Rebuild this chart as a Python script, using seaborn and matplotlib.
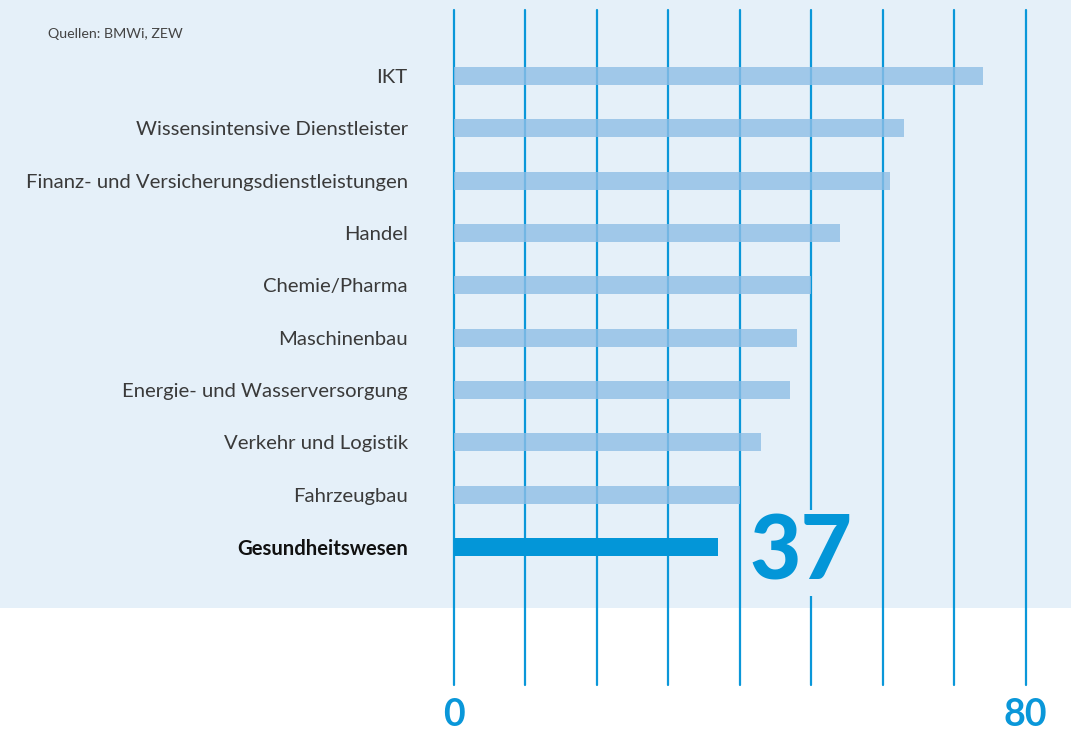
import matplotlib
matplotlib.use("Agg")
import matplotlib.pyplot as plt
import seaborn as sns
import pandas as pd
from matplotlib.patches import Rectangle

# Branchen und Werte
branchen = [
    "IKT",
    "Wissensintensive Dienstleister",
    "Finanz- und Versicherungsdienstleistungen",
    "Handel",
    "Chemie/Pharma",
    "Maschinenbau",
    "Energie- und Wasserversorgung",
    "Verkehr und Logistik",
    "Fahrzeugbau",
    "Gesundheitswesen",
]
werte = [74, 63, 61, 54, 50, 48, 47, 43, 40, 37]
highlight = "Gesundheitswesen"
x_ticks = [0, 80]
grid_steps = list(range(0, 81, 10))

BG = "#e5f0f9"
LIGHT = "#8fbfe6"
DARK = "#0396d8"
LINE = "#0a97d9"

sns.set_style("white")
plt.rcParams["font.family"] = ["Lato", "DejaVu Sans"]

df = pd.DataFrame({"branche": branchen, "wert": werte})
palette = {b: (DARK if b == highlight else LIGHT) for b in branchen}

fig = plt.figure(figsize=(10.71, 7.32), dpi=100)
fig.patches.append(Rectangle((0, 1 - 608 / 732), 1, 608 / 732, transform=fig.transFigure,
                             facecolor=BG, edgecolor="none", zorder=-5))

ax = fig.add_axes([453.5 / 1071, 1 - 685 / 732, 572 / 1071, 675 / 732])
ax.set_facecolor("none")

for g in grid_steps:
    ax.axvline(g, color=LINE, lw=1.6, zorder=1, clip_on=False)

sns.barplot(data=df, x="wert", y="branche", hue="branche", palette=palette,
            legend=False, width=0.34, ax=ax, zorder=2, saturation=1)
for p, b in zip(ax.patches, branchen):
    p.set_edgecolor("none")
    if b != highlight:
        p.set_alpha(0.8)

ax.set_xlim(0, 80)
ax.set_ylim(11.638, -1.261)
sns.despine(ax=ax, left=True, bottom=True)
ax.set_xlabel("")
ax.set_ylabel("")

ax.set_xticks(x_ticks)
ax.set_xticklabels([str(t) for t in x_ticks], fontsize=27, fontweight="bold", color=LINE)
ax.tick_params(axis="x", length=0, pad=9)
ax.tick_params(axis="y", length=0, pad=33, labelsize=14.6, labelcolor="#3a3a3a")
for lbl in ax.get_yticklabels():
    if lbl.get_text() == highlight:
        lbl.set_fontweight("bold")
        lbl.set_color("#111111")

# Hervorgehobener Wert
idx = branchen.index(highlight)
ax.text(48.6, idx + 0.12, str(werte[idx]), fontsize=64, fontweight="black", color=DARK,
        ha="center", va="center", zorder=3,
        bbox=dict(facecolor=BG, edgecolor="none", pad=1))

fig.text(48 / 1071, 1 - 34 / 732, "Quellen: BMWi, ZEW", fontsize=10.3, color="#444444",
         va="center", ha="left")

fig.savefig("out.png", dpi=100)
